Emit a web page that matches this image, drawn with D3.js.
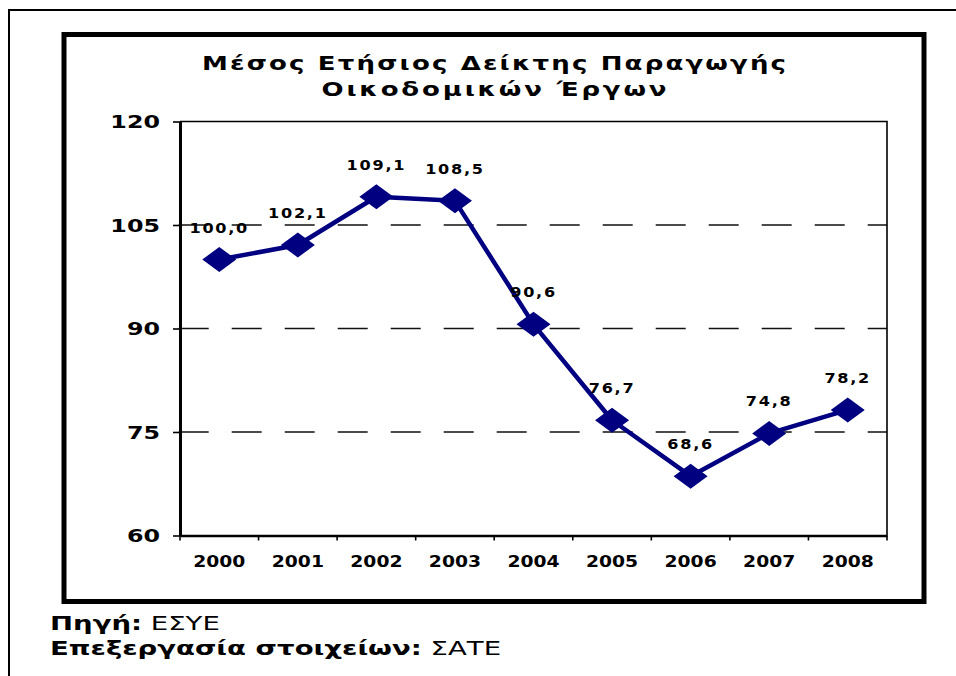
<!DOCTYPE html>
<html>
<head>
<meta charset="utf-8">
<script src="https://cdn.jsdelivr.net/npm/d3@7"></script>
<style>
  html, body { margin: 0; padding: 0; background: #fff; }
  svg { display: block; }
</style>
</head>
<body>
<script>
// Annual average construction production index (2000 = 100)
const years = ["2000", "2001", "2002", "2003", "2004", "2005", "2006", "2007", "2008"];
const indexValues = [100.0, 102.1, 109.1, 108.5, 90.6, 76.7, 68.6, 74.8, 78.2];
const yTicks = [60, 75, 90, 105, 120];
const titleLines = ["Μέσος Ετήσιος Δείκτης Παραγωγής", "Οικοδομικών Έργων"];
const noteLabels = ["Πηγή:", "Επεξεργασία στοιχείων:"];
const noteValues = ["ΕΣΥΕ", "ΣΑΤΕ"];

const W = 956, H = 676;
const FONT = "'DejaVu Sans', Verdana, sans-serif";
const NAVY = "#000080";

const svg = d3.select("body").append("svg")
  .attr("width", W).attr("height", H)
  .attr("viewBox", `0 0 ${W} ${H}`);

svg.append("rect").attr("width", W).attr("height", H).attr("fill", "#fff");

// page frame (top and left rules)
svg.append("path")
  .attr("d", `M9,${H} V10 H${W}`)
  .attr("fill", "none").attr("stroke", "#000").attr("stroke-width", 2);

// heavy chart box
svg.append("rect")
  .attr("x", 64).attr("y", 34.5).attr("width", 860).attr("height", 567)
  .attr("fill", "#fff").attr("stroke", "#000").attr("stroke-width", 5);

// scales
const plot = { left: 180, right: 887, top: 121.5, bottom: 535.5 };
const x = d3.scaleBand().domain(years).range([plot.left, plot.right]);
const y = d3.scaleLinear().domain([60, 120]).range([plot.bottom, plot.top]);
const cx = d => x(d) + x.bandwidth() / 2;
const fmt = v => d3.format(".1f")(v).replace(".", ",");

// title, two centred lines, widened to the box
const titleWidths = [584, 345];
const titleBase = [70, 96];
titleLines.forEach((t, i) => {
  const sx = 1.3;
  svg.append("g")
    .attr("transform", `translate(494,${titleBase[i]}) scale(${sx},1)`)
    .append("text")
    .attr("text-anchor", "middle")
    .attr("font-family", FONT).attr("font-weight", "bold").attr("font-size", 20)
    .attr("fill", "#000")
    .attr("textLength", titleWidths[i] / sx)
    .attr("lengthAdjust", "spacing")
    .text(t);
});

// dashed gridlines at the inner ticks
svg.append("g").selectAll("line")
  .data(yTicks.filter(v => v > y.domain()[0] && v < y.domain()[1]))
  .join("line")
  .attr("x1", plot.left - 1.3).attr("x2", plot.right)
  .attr("y1", d => y(d)).attr("y2", d => y(d))
  .attr("stroke", "#111").attr("stroke-width", 1.5)
  .attr("stroke-dasharray", "30,23");

// plot frame: top and right edges
svg.append("path")
  .attr("d", `M${plot.left},${y(120)} H${plot.right} V${y(60)}`)
  .attr("fill", "none").attr("stroke", "#000").attr("stroke-width", 1.6);

// y axis
const yAxis = svg.append("g")
  .attr("transform", `translate(${plot.left},0)`)
  .call(d3.axisLeft(y).tickValues(yTicks).tickSize(7).tickSizeOuter(0).tickFormat(d3.format("d")));
yAxis.select(".domain").attr("stroke", "#000").attr("stroke-width", 3);
yAxis.selectAll(".tick line").attr("stroke", "#000").attr("stroke-width", 1.6);
yAxis.selectAll(".tick text")
  .attr("x", 0).attr("dy", "0.36em")
  .attr("transform", "translate(-20,0) scale(1.4,1)")
  .attr("text-anchor", "end")
  .attr("font-family", FONT).attr("font-weight", "bold").attr("font-size", 17)
  .attr("fill", "#000");

// x axis: baseline, category-boundary ticks, year labels
const xAxis = svg.append("g")
  .attr("transform", `translate(0,${plot.bottom})`)
  .call(d3.axisBottom(x).tickSize(0).tickSizeOuter(0).tickPadding(0));
xAxis.select(".domain").attr("stroke", "#000").attr("stroke-width", 2.6);
xAxis.selectAll(".tick text")
  .attr("y", 0).attr("dy", 0)
  .attr("transform", "translate(0,31) scale(1.25,1)")
  .attr("font-family", FONT).attr("font-weight", "bold").attr("font-size", 15)
  .attr("fill", "#000");
xAxis.append("g").selectAll("line")
  .data(d3.range(years.length + 1))
  .join("line")
  .attr("x1", i => plot.left + i * x.step()).attr("x2", i => plot.left + i * x.step())
  .attr("y1", 0).attr("y2", 5)
  .attr("stroke", "#000").attr("stroke-width", 1.6);

// series
const series = years.map((yr, i) => ({ year: yr, value: indexValues[i] }));

svg.append("path")
  .datum(series)
  .attr("fill", "none")
  .attr("stroke", NAVY).attr("stroke-width", 4.5)
  .attr("stroke-linejoin", "round")
  .attr("d", d3.line().x(d => cx(d.year)).y(d => y(d.value)));

svg.append("g").selectAll("path")
  .data(series)
  .join("path")
  .attr("transform", d => `translate(${cx(d.year)},${y(d.value)})`)
  .attr("d", "M0,-12.5 L17,0 L0,12.5 L-17,0 Z")
  .attr("fill", NAVY);

// value labels above each marker
svg.append("g").selectAll("text")
  .data(series)
  .join("text")
  .attr("transform", d => `translate(${cx(d.year)},${y(d.value) - 27}) scale(1.15,1)`)
  .attr("text-anchor", "middle")
  .attr("font-family", FONT).attr("font-weight", "bold").attr("font-size", 14)
  .attr("letter-spacing", 1.5)
  .attr("fill", "#000")
  .text(d => fmt(d.value));

// source notes below the box
const noteBase = [630, 654.5];
noteLabels.forEach((lab, i) => {
  const t = svg.append("g")
    .attr("transform", `translate(50,${noteBase[i]}) scale(1.45,1)`)
    .append("text")
    .attr("font-family", FONT).attr("font-size", 19).attr("fill", "#000");
  t.append("tspan").attr("font-weight", "bold").text(lab);
  t.append("tspan").attr("font-weight", "normal").text(" " + noteValues[i]);
});
</script>
</body>
</html>
